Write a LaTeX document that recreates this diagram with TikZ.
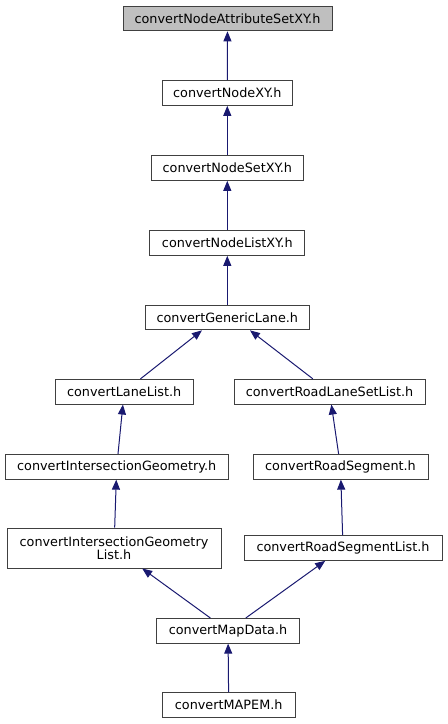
\documentclass[tikz,border=0pt]{standalone}
\usepackage{fontspec}
\setmainfont{DejaVu Sans}
\usetikzlibrary{arrows.meta,positioning}
\definecolor{edgeblue}{HTML}{191970}
\definecolor{rootgray}{HTML}{BFBFBF}
\definecolor{boxline}{HTML}{404040}

\begin{document}
\begin{tikzpicture}[
    x=0.75pt, y=-0.75pt,
    every node/.style={font=\fontsize{9.6}{9.8}\selectfont},
    hdrbox/.style={rectangle, draw=boxline, line width=0.75pt, fill=white,
                 minimum height=18.5pt, inner sep=0pt, align=center},
    rootbox/.style={hdrbox, fill=rootgray},
    incl/.style={-{Triangle[length=7.5pt, width=6pt]}, line width=0.75pt, edgeblue},
]
\useasboundingbox (0,0) rectangle (447,724);

\node[rootbox, minimum width=156.75pt] (attr) at (227.5,18.5) {convertNodeAttributeSetXY.h};
\node[hdrbox, minimum width=97.5pt] (nodexy) at (227.3,93) {convertNodeXY.h};
\node[hdrbox, minimum width=114pt] (nodeset) at (227.3,168) {convertNodeSetXY.h};
\node[hdrbox, minimum width=116.25pt] (nodelist) at (227.3,243) {convertNodeListXY.h};
\node[hdrbox, minimum width=123pt] (generic) at (227.3,317.5) {convertGenericLane.h};
\node[hdrbox, minimum width=103.5pt] (lanelist) at (124.2,391.7) {convertLaneList.h};
\node[hdrbox, minimum width=143.25pt] (laneset) at (329.5,391.7) {convertRoadLaneSetList.h};
\node[hdrbox, minimum width=167.25pt] (isecgeo) at (116.7,466.8) {convertIntersectionGeometry.h};
\node[hdrbox, minimum width=131.25pt] (roadseg) at (340.5,466.8) {convertRoadSegment.h};
\node[hdrbox, minimum width=160.5pt, minimum height=30pt] (isecgeolist) at (114,548) {convertIntersectionGeometry\\List.h};
\node[hdrbox, minimum width=148.5pt] (roadseglist) at (343,548) {convertRoadSegmentList.h};
\node[hdrbox, minimum width=107pt] (mapdata) at (228,630.8) {convertMapData.h};
\node[hdrbox, minimum width=99.5pt] (mapem) at (228.7,705) {convertMAPEM.h};

% include edges
\draw[incl] (nodexy) -- (attr);
\draw[incl] (nodeset) -- (nodexy);
\draw[incl] (nodelist) -- (nodeset);
\draw[incl] (generic) -- (nodelist);
\draw[incl] (lanelist) -- ([xshift=-19pt]generic.south);
\draw[incl] (laneset) -- ([xshift=17pt]generic.south);
\draw[incl] (isecgeo) -- (lanelist);
\draw[incl] (roadseg) -- (laneset);
\draw[incl] (isecgeolist) -- (isecgeo);
\draw[incl] (roadseglist) -- (roadseg);
\draw[incl] (mapdata) -- (isecgeolist);
\draw[incl] (mapdata) -- (roadseglist);
\draw[incl] (mapem) -- (mapdata);

\end{tikzpicture}
\end{document}
